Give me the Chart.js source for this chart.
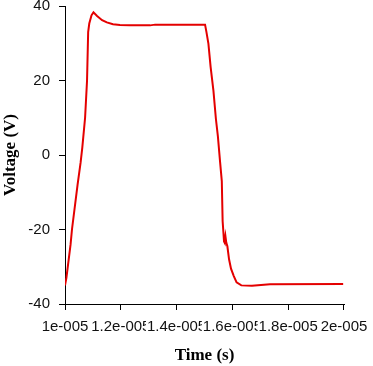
<!DOCTYPE html>
<html>
<head>
<meta charset="utf-8">
<script src="https://cdn.jsdelivr.net/npm/chart.js@4/dist/chart.umd.min.js"></script>
<style>
  html, body { margin: 0; padding: 0; background: #fff; }
  #wrap { width: 373px; height: 366px; }
</style>
</head>
<body>
<div id="wrap"><canvas id="myChart" width="373" height="366"></canvas></div>
<script>
// time (s) and voltage (V)
const timeValues = [
    1.000e-5, 1.005e-5, 1.020e-5, 1.025e-5, 1.045e-5, 1.056e-5, 1.062e-5, 1.072e-5,
    1.079e-5, 1.083e-5, 1.087e-5, 1.095e-5, 1.102e-5, 1.115e-5, 1.133e-5, 1.150e-5,
    1.172e-5, 1.197e-5, 1.233e-5, 1.305e-5, 1.323e-5, 1.502e-5, 1.507e-5, 1.514e-5,
    1.522e-5, 1.532e-5, 1.541e-5, 1.548e-5, 1.556e-5, 1.562e-5, 1.565e-5, 1.570e-5,
    1.572e-5, 1.575e-5, 1.578e-5, 1.582e-5, 1.588e-5, 1.595e-5, 1.605e-5, 1.615e-5,
    1.632e-5, 1.670e-5, 1.735e-5, 1.997e-5
];
const voltageValues = [
    -35, -33, -24, -20, -8, -2, 2, 10,
    20, 33, 35.3, 37.5, 38.3, 37.3, 36.2, 35.6,
    35.1, 34.9, 34.8, 34.8, 35.0, 35.0, 33, 29.9,
    23.6, 17.3, 9.6, 5, -2, -7, -17.8, -23.2,
    -23.5, -21.8, -23.5, -24.5, -28, -30.5, -32.5, -34.2,
    -35, -35.1, -34.7, -34.6
];
const xTickLabels = ['1e-005', '1.2e-005', '1.4e-005', '1.6e-005', '1.8e-005', '2e-005'];
const yTicks = [-40, -20, 0, 20, 40];

const points = timeValues.map((t, i) => ({ x: t, y: voltageValues[i] }));

const ctx = document.getElementById('myChart').getContext('2d');
const myChart = new Chart(ctx, {
    type: 'line',
    data: {
        datasets: [{
            data: points,
            borderColor: 'rgb(228, 0, 0)',
            borderWidth: 2,
            pointRadius: 0,
            tension: 0,
            fill: false
        }]
    },
    options: {
        responsive: false,
        animation: false,
        devicePixelRatio: 1,
        layout: { padding: 0 },
        plugins: { legend: { display: false }, tooltip: { enabled: false } },
        scales: {
            x: {
                type: 'linear',
                min: 1e-5,
                max: 2e-5,
                afterFit: (scale) => {
                    scale.height = 62;
                    scale.paddingRight = 29;
                },
                afterBuildTicks: (scale) => {
                    scale.ticks = xTickLabels.map((_, i) => ({ value: 1e-5 + i * 2e-6 }));
                },
                ticks: {
                    autoSkip: false,
                    maxRotation: 0,
                    minRotation: 0,
                    padding: 8,
                    color: '#111',
                    font: { family: 'Liberation Sans', size: 15 },
                    showLabelBackdrop: true,
                    backdropColor: '#fff',
                    backdropPadding: { left: 1, right: 0, top: 0, bottom: 0 },
                    callback: (v, i) => xTickLabels[i]
                },
                grid: { drawOnChartArea: false, tickLength: 6, color: '#000' },
                border: { color: '#000', width: 1 },
                title: {
                    display: true,
                    text: 'Time (s)',
                    color: '#000',
                    font: { family: 'Liberation Serif', size: 17, weight: 'bold' },
                    padding: { top: 4, bottom: 0 }
                }
            },
            y: {
                type: 'linear',
                min: -40,
                max: 40,
                afterFit: (scale) => {
                    scale.width = 65;
                    scale.paddingTop = 6;
                    scale.paddingBottom = 0;
                },
                afterBuildTicks: (scale) => {
                    scale.ticks = yTicks.map(v => ({ value: v }));
                },
                ticks: {
                    padding: 9,
                    color: '#111',
                    font: { family: 'Liberation Sans', size: 15 }
                },
                grid: { drawOnChartArea: false, tickLength: 6, color: '#000' },
                border: { color: '#000', width: 1 },
                title: {
                    display: true,
                    text: 'Voltage (V)',
                    color: '#000',
                    font: { family: 'Liberation Serif', size: 17, weight: 'bold' },
                    padding: { top: 0, bottom: 3 }
                }
            }
        }
    }
});
</script>
</body>
</html>
